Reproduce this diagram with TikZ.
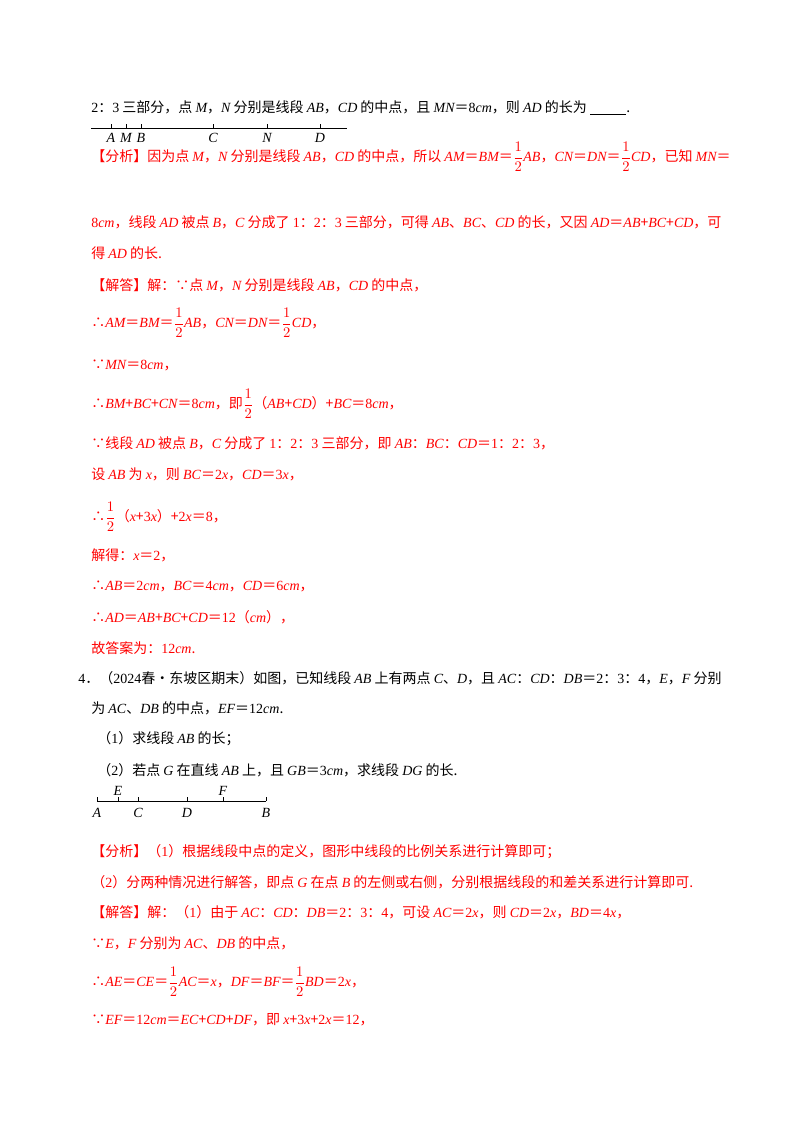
\documentclass[tikz,border=0pt]{standalone}
\usepackage{fontspec}
\setmainfont{Noto Sans CJK SC}
\newfontfamily\lat{Liberation Serif}
\newcommand{\vv}[1]{{\lat\itshape #1}}
\newcommand{\nn}[1]{{\lat #1}}
\newcommand{\hf}{$\displaystyle\frac{1}{2}$}
\begin{document}
\begin{tikzpicture}[x=0.75pt,y=-0.75pt,
  txt/.style={anchor=west,inner sep=0pt,font=\fontsize{10.5}{12}\selectfont},
  rd/.style={txt,text=red},
  seg/.style={line width=0.5pt},
  lab/.style={inner sep=0pt,font=\lat\itshape\fontsize{10.5}{12}\selectfont}]
\useasboundingbox (0,0) rectangle (800,1132);
\node[txt] (l1) at (91,108) {\nn{2}：\nn{3} 三部分，点 \vv{M}，\vv{N} 分别是线段 \vv{AB}，\vv{CD} 的中点，且 \vv{MN}＝\nn{8}\vv{cm}，则 \vv{AD} 的长为 \underline{\hspace{2.6em}}.};
% line 1
\draw[seg] (91,128) coordinate (s1) -- (347,128) coordinate (e1);
\foreach \x/\n in {111/A,126/M,141/B,213/C,267/N,320/D}{
  \draw[seg] (\x,128) -- (\x,124);
  \node[lab] (p\n) at (\x,138) {\n};}
\node[rd] (a1) at (91,157) {【分析】因为点 \vv{M}，\vv{N} 分别是线段 \vv{AB}，\vv{CD} 的中点，所以 \vv{AM}＝\vv{BM}＝\hf\vv{AB}，\vv{CN}＝\vv{DN}＝\hf\vv{CD}，已知 \vv{MN}＝};
\node[rd] (a2) at (91,222) {\nn{8}\vv{cm}，线段 \vv{AD} 被点 \vv{B}，\vv{C} 分成了 \nn{1}：\nn{2}：\nn{3} 三部分，可得 \vv{AB}、\vv{BC}、\vv{CD} 的长，又因 \vv{AD}＝\vv{AB}+\vv{BC}+\vv{CD}，可};
\node[rd] (a3) at (91,253) {得 \vv{AD} 的长.};
\node[rd] (a4) at (91,285) {【解答】解：∵点 \vv{M}，\vv{N} 分别是线段 \vv{AB}，\vv{CD} 的中点，};
\node[rd] (a5) at (91,323) {∴\vv{AM}＝\vv{BM}＝\hf\vv{AB}，\vv{CN}＝\vv{DN}＝\hf\vv{CD}，};
\node[rd] (a6) at (91,365) {∵\vv{MN}＝\nn{8}\vv{cm}，};
\node[rd] (a7) at (91,404) {∴\vv{BM}+\vv{BC}+\vv{CN}＝\nn{8}\vv{cm}，即\hf（\vv{AB}+\vv{CD}）+\vv{BC}＝\nn{8}\vv{cm}，};
\node[rd] (a8) at (91,443) {∵线段 \vv{AD} 被点 \vv{B}，\vv{C} 分成了 \nn{1}：\nn{2}：\nn{3} 三部分，即 \vv{AB}：\vv{BC}：\vv{CD}＝\nn{1}：\nn{2}：\nn{3}，};
\node[rd] (a9) at (91,474) {设 \vv{AB} 为 \vv{x}，则 \vv{BC}＝\nn{2}\vv{x}，\vv{CD}＝\nn{3}\vv{x}，};
\node[rd] (a10) at (91,517) {∴\hf（\vv{x}+\nn{3}\vv{x}）+\nn{2}\vv{x}＝\nn{8}，};
\node[rd] (a11) at (91,555) {解得：\vv{x}＝\nn{2}，};
\node[rd] (a12) at (91,586) {∴\vv{AB}＝\nn{2}\vv{cm}，\vv{BC}＝\nn{4}\vv{cm}，\vv{CD}＝\nn{6}\vv{cm}，};
\node[rd] (a13) at (91,617) {∴\vv{AD}＝\vv{AB}+\vv{BC}+\vv{CD}＝\nn{12}（\vv{cm}），};
\node[rd] (a14) at (91,648) {故答案为：\nn{12}\vv{cm}.};
\node[txt] (q1) at (78,678) {\nn{4}．（\nn{2024}春\textbullet 东坡区期末）如图，已知线段 \vv{AB} 上有两点 \vv{C}、\vv{D}，且 \vv{AC}：\vv{CD}：\vv{DB}＝\nn{2}：\nn{3}：\nn{4}，\vv{E}，\vv{F} 分别};
\node[txt] (q2) at (91,708) {为 \vv{AC}、\vv{DB} 的中点，\vv{EF}＝\nn{12}\vv{cm}.};
\node[txt] (q3) at (97,739) {（\nn{1}）求线段 \vv{AB} 的长；};
\node[txt] (q4) at (97,770) {（\nn{2}）若点 \vv{G} 在直线 \vv{AB} 上，且 \vv{GB}＝\nn{3}\vv{cm}，求线段 \vv{DG} 的长.};
% line 2
\draw[seg] (97,801) coordinate (s2) -- (266,801) coordinate (e2);
\foreach \x/\n in {97/A,138/C,187/D,266/B}{
  \draw[seg] (\x,801) -- (\x,797);
  \node[lab] (r\n) at (\x,813) {\n};}
\foreach \x/\n in {118/E,223/F}{
  \draw[seg] (\x,801) -- (\x,797);
  \node[lab] (r\n) at (\x,791) {\n};}
\node[rd] (b1) at (91,852) {【分析】（\nn{1}）根据线段中点的定义，图形中线段的比例关系进行计算即可；};
\node[rd] (b2) at (91,882) {（\nn{2}）分两种情况进行解答，即点 \vv{G} 在点 \vv{B} 的左侧或右侧，分别根据线段的和差关系进行计算即可.};
\node[rd] (b3) at (91,912) {【解答】解：（\nn{1}）由于 \vv{AC}：\vv{CD}：\vv{DB}＝\nn{2}：\nn{3}：\nn{4}，可设 \vv{AC}＝\nn{2}\vv{x}，则 \vv{CD}＝\nn{2}\vv{x}，\vv{BD}＝\nn{4}\vv{x}，};
\node[rd] (b4) at (91,943) {∵\vv{E}，\vv{F} 分别为 \vv{AC}、\vv{DB} 的中点，};
\node[rd] (b5) at (91,982) {∴\vv{AE}＝\vv{CE}＝\hf\vv{AC}＝\vv{x}，\vv{DF}＝\vv{BF}＝\hf\vv{BD}＝\nn{2}\vv{x}，};
\node[rd] (b6) at (91,1020) {∵\vv{EF}＝\nn{12}\vv{cm}＝\vv{EC}+\vv{CD}+\vv{DF}，即 \vv{x}+\nn{3}\vv{x}+\nn{2}\vv{x}＝\nn{12}，};
\end{tikzpicture}
\end{document}
